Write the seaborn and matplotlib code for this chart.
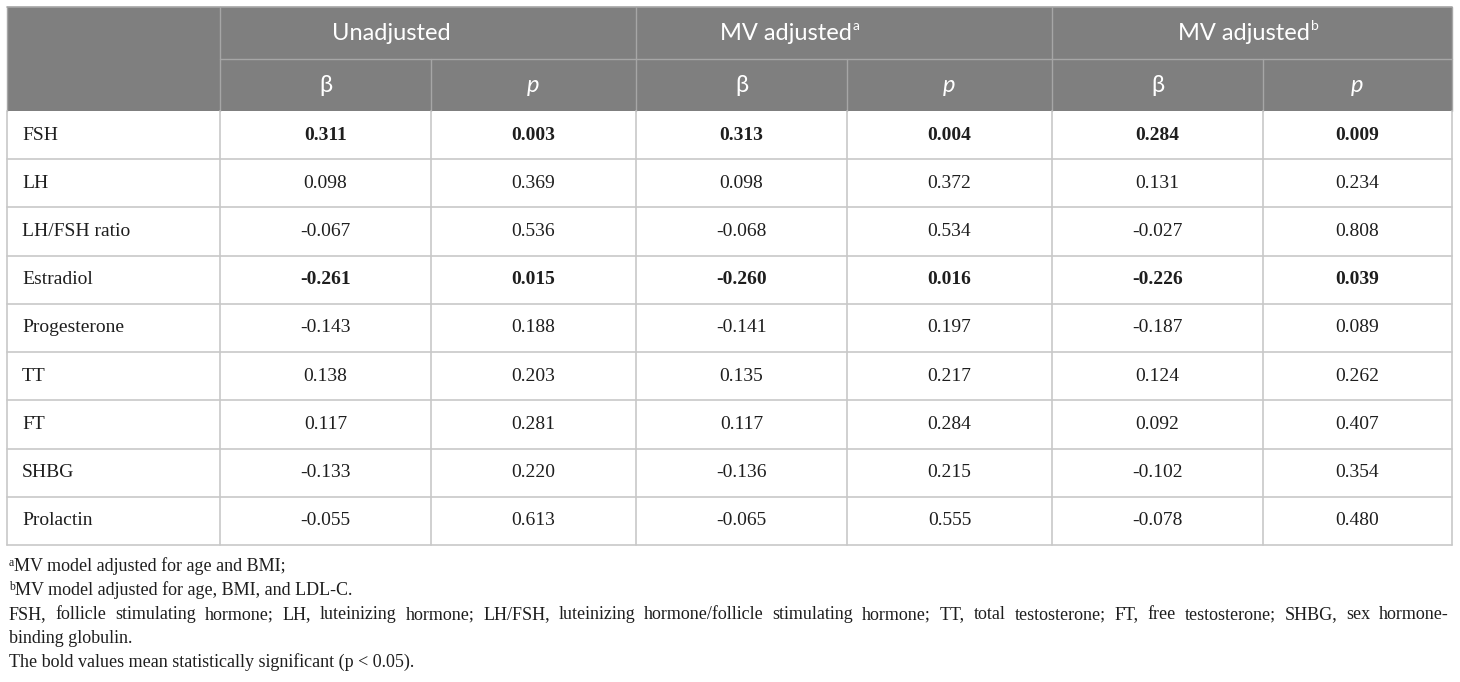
import matplotlib
matplotlib.use("Agg")
import matplotlib.pyplot as plt
from matplotlib.patches import Rectangle
import seaborn as sns
import numpy as np

# ---------------- data ----------------
row_labels = ["FSH", "LH", "LH/FSH ratio", "Estradiol", "Progesterone", "TT", "FT", "SHBG", "Prolactin"]
unadj_beta = [0.311, 0.098, -0.067, -0.261, -0.143, 0.138, 0.117, -0.133, -0.055]
unadj_p = [0.003, 0.369, 0.536, 0.015, 0.188, 0.203, 0.281, 0.220, 0.613]
mva_beta = [0.313, 0.098, -0.068, -0.260, -0.141, 0.135, 0.117, -0.136, -0.065]
mva_p = [0.004, 0.372, 0.534, 0.016, 0.197, 0.217, 0.284, 0.215, 0.555]
mvb_beta = [0.284, 0.131, -0.027, -0.226, -0.187, 0.124, 0.092, -0.102, -0.078]
mvb_p = [0.009, 0.234, 0.808, 0.039, 0.089, 0.262, 0.407, 0.354, 0.480]
group_titles = ["Unadjusted", "MV adjusted", "MV adjusted"]
group_sups = ["", "a", "b"]
sub_titles = ["\u03b2", "p"]
footnotes = [
    ("a", "MV model adjusted for age and BMI;"),
    ("b", "MV model adjusted for age, BMI, and LDL-C."),
    ("", "FSH, follicle stimulating hormone; LH, luteinizing hormone; LH/FSH, luteinizing hormone/follicle stimulating hormone; TT, total testosterone; FT, free testosterone; SHBG, sex hormone-"),
    ("", "binding globulin."),
    ("", "The bold values mean statistically significant (p < 0.05)."),
]

# ---------------- layout ----------------
sns.set_theme(style="white")
W, H = 1460, 682
fig = plt.figure(figsize=(W / 100, H / 100), dpi=100)
ax = fig.add_axes([0, 0, 1, 1])
ax.set_xlim(0, W)
ax.set_ylim(H, 0)
ax.axis("off")

col_edges = [7, 220, 431, 636, 847, 1052, 1263, 1452]
top = 7
h_head = 52
h_row = (545 - 111) / 9
row_edges = [top, top + h_head, top + 2 * h_head] + [top + 2 * h_head + h_row * (i + 1) for i in range(9)]
y_tab_bottom = row_edges[-1]

HEAD_BG = "#7f7f7f"
HEAD_LINE = "#a6a6a6"
BODY_LINE = "#c8c8c8"
TXT = "#1e1e1e"
sans = ["Lato", "DejaVu Sans"]
serif = ["Liberation Serif", "DejaVu Serif"]

# header background
ax.add_patch(Rectangle((col_edges[0], top), col_edges[-1] - col_edges[0], 2 * h_head,
                       facecolor=HEAD_BG, edgecolor="none", zorder=1))
# header lines
ax.plot([col_edges[0], col_edges[-1]], [top, top], color=HEAD_LINE, lw=1.2, zorder=2)
ax.plot([col_edges[1], col_edges[-1]], [top + h_head, top + h_head], color=HEAD_LINE, lw=1.0, zorder=2)
ax.plot([col_edges[0], col_edges[0]], [top, top + 2 * h_head], color=HEAD_LINE, lw=1.0, zorder=2)
for k in [1, 3, 5]:
    ax.plot([col_edges[k], col_edges[k]], [top, top + 2 * h_head], color=HEAD_LINE, lw=1.0, zorder=2)
for k in [2, 4, 6]:
    ax.plot([col_edges[k], col_edges[k]], [top + h_head, top + 2 * h_head], color=HEAD_LINE, lw=1.0, zorder=2)
ax.plot([col_edges[-1], col_edges[-1]], [top, top + 2 * h_head], color=HEAD_LINE, lw=1.0, zorder=2)

# body grid
for y in row_edges[3:]:
    ax.plot([col_edges[0], col_edges[-1]], [y, y], color=BODY_LINE, lw=1.2, zorder=2)
for x in col_edges:
    ax.plot([x, x], [row_edges[2], y_tab_bottom], color=BODY_LINE, lw=1.2, zorder=2)

# header texts
group_centers = [391, 786, 1244]
fig.canvas.draw()
renderer = fig.canvas.get_renderer()
for gc, t, s in zip(group_centers, group_titles, group_sups):
    yc = top + h_head / 2
    txt = ax.text(gc, yc, t, ha="center", va="center", color="white", fontsize=17,
                  family=sans, zorder=3)
    if s:
        bb = txt.get_window_extent(renderer=renderer)
        xr = ax.transData.inverted().transform((bb.x1 + 1, 0))[0]
        ax.text(xr, yc - 7, s, ha="left", va="center", color="white", fontsize=10,
                family=sans, zorder=3)

for k in range(1, 7):
    xc = (col_edges[k] + col_edges[k + 1]) / 2
    lab = sub_titles[(k - 1) % 2]
    style = "italic" if lab == "p" else "normal"
    ax.text(xc, top + 1.5 * h_head, lab, ha="center", va="center", color="white",
            fontsize=17, family=sans, style=style, zorder=3)

# body texts
value_cols = [unadj_beta, unadj_p, mva_beta, mva_p, mvb_beta, mvb_p]
p_cols = [unadj_p, unadj_p, mva_p, mva_p, mvb_p, mvb_p]
for i, lab in enumerate(row_labels):
    yc = (row_edges[3 + i - 1] + row_edges[3 + i]) / 2
    ax.text(22, yc, lab, ha="left", va="center", color=TXT, fontsize=14,
            family=serif, zorder=3)
    for k, (vals, ps) in enumerate(zip(value_cols, p_cols)):
        xc = (col_edges[k + 1] + col_edges[k + 2]) / 2
        bold = ps[i] < 0.05
        ax.text(xc, yc, f"{vals[i]:.3f}", ha="center", va="center", color=TXT,
                fontsize=14, family=serif, weight="bold" if bold else "normal", zorder=3)

# footnotes (baseline aligned)
foot_base = [571, 595, 619, 643, 667]
x0 = 9
x1 = 1449
fs_foot = 13.0
for (sup, line), yb in zip(footnotes, foot_base):
    xs = x0
    if sup:
        st = ax.text(xs, yb - 5, sup, ha="left", va="baseline", color=TXT, fontsize=8.5,
                     family=serif)
        bb = st.get_window_extent(renderer=renderer)
        xs = xs + bb.width
    if line.endswith("hormone-"):
        # justified line
        words = line.split(" ")
        widths = []
        for w in words:
            t = ax.text(0, 0, w, fontsize=fs_foot, family=serif)
            widths.append(t.get_window_extent(renderer=renderer).width)
            t.remove()
        gap = (x1 - xs - sum(widths)) / (len(words) - 1)
        xp = xs
        for w, wd in zip(words, widths):
            ax.text(xp, yb, w, ha="left", va="baseline", color=TXT, fontsize=fs_foot,
                    family=serif)
            xp += wd + gap
    else:
        ax.text(xs, yb, line, ha="left", va="baseline", color=TXT, fontsize=fs_foot,
                family=serif)

fig.savefig("out.png", dpi=100, facecolor="white")
